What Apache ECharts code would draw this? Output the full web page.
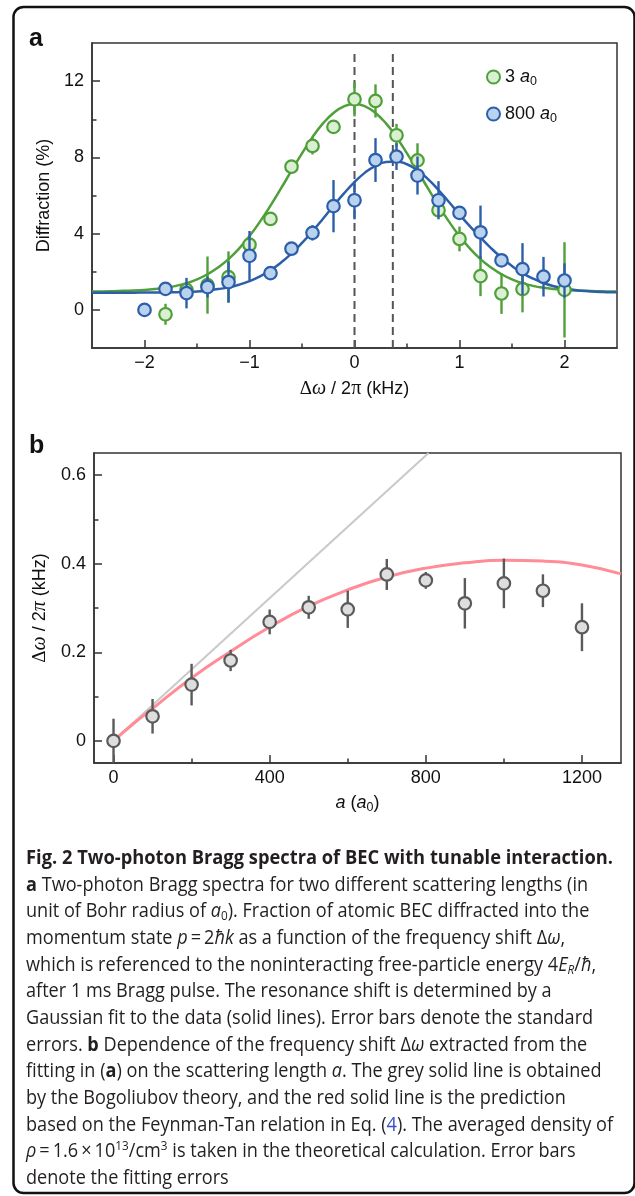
<!DOCTYPE html>
<html>
<head>
<meta charset="utf-8">
<script src="https://cdn.jsdelivr.net/npm/echarts@6/dist/echarts.min.js"></script>
<style>
  html, body { margin: 0; padding: 0; background: #fff; }
  #chart { position: absolute; left: 0; top: 0; width: 635px; height: 1196px; }
  #caption { position: absolute; left: 0; top: 0; width: 635px; height: 1196px; pointer-events: none; }
  .cl { position: absolute; left: 26px; white-space: nowrap; font-family: "Open Sans", "Noto Sans", sans-serif;
        font-size: 20px; line-height: 26px; color: #231f20; transform-origin: 0 50%; }
  .cl i { font-style: italic; }
  .cl b { font-weight: 700; }
  .cl sub { font-size: 13px; vertical-align: -3px; line-height: 0; }
  .cl sup { font-size: 13px; vertical-align: 7px; line-height: 0; }
  .lnk { color: #3450c8; }
</style>
</head>
<body>
<div id="chart"></div>
<div id="caption">
  <div class="cl"><b>Fig. 2 Two-photon Bragg spectra of BEC with tunable interaction.</b></div>
  <div class="cl"><b>a</b> Two-photon Bragg spectra for two different scattering lengths (in</div>
  <div class="cl">unit of Bohr radius of <i>a</i><sub>0</sub>). Fraction of atomic BEC diffracted into the</div>
  <div class="cl">momentum state <i>p</i>&thinsp;=&thinsp;2<i>ħk</i> as a function of the frequency shift Δ<i>ω</i>,</div>
  <div class="cl">which is referenced to the noninteracting free-particle energy 4<i>E</i><sub><i>R</i></sub>/<i>ħ</i>,</div>
  <div class="cl">after 1 ms Bragg pulse. The resonance shift is determined by a</div>
  <div class="cl">Gaussian fit to the data (solid lines). Error bars denote the standard</div>
  <div class="cl">errors. <b>b</b> Dependence of the frequency shift Δ<i>ω</i> extracted from the</div>
  <div class="cl">fitting in (<b>a</b>) on the scattering length <i>a</i>. The grey solid line is obtained</div>
  <div class="cl">by the Bogoliubov theory, and the red solid line is the prediction</div>
  <div class="cl">based on the Feynman-Tan relation in Eq. (<span class="lnk">4</span>). The averaged density of</div>
  <div class="cl"><i>ρ</i>&thinsp;=&thinsp;1.6&thinsp;×&thinsp;10<sup>13</sup>/cm<sup>3</sup> is taken in the theoretical calculation. Error bars</div>
  <div class="cl">denote the fitting errors</div>
</div>
<script>
// ---------------- Panel a data ----------------
const greenX   = [-1.8, -1.6, -1.4, -1.2, -1.0, -0.8, -0.6, -0.4, -0.2, 0.0, 0.2, 0.4, 0.6, 0.8, 1.0, 1.2, 1.4, 1.6, 2.0];
const greenY   = [-0.23, 1.05, 1.3, 1.72, 3.42, 4.77, 7.51, 8.6, 9.6, 11.05, 10.96, 9.16, 7.84, 5.23, 3.72, 1.77, 0.86, 1.09, 1.05];
const greenErr = [0.55, 0.3, 1.5, 1.35, 0.3, 0.3, 0.35, 0.45, 0.3, 0.9, 0.87, 0.6, 0.9, 0.35, 0.65, 1.05, 1.07, 1.22, 2.5];

const blueX   = [-2.0, -1.8, -1.6, -1.4, -1.2, -1.0, -0.8, -0.6, -0.4, -0.2, 0.0, 0.2, 0.4, 0.6, 0.8, 1.0, 1.2, 1.4, 1.6, 1.8, 2.0];
const blueY   = [0.0, 1.1, 0.88, 1.2, 1.46, 2.84, 1.93, 3.21, 4.04, 5.44, 5.75, 7.86, 8.04, 7.05, 5.75, 5.09, 4.07, 2.6, 2.14, 1.74, 1.54];
const blueErr = [0.35, 0.3, 0.8, 0.55, 1.07, 1.3, 0.3, 0.3, 0.4, 1.37, 1.0, 1.15, 0.7, 1.0, 1.0, 0.3, 1.4, 0.3, 1.36, 1.04, 0.9];

// Gaussian fit curves
const fitX = [-2.5, -2.4, -2.3, -2.2, -2.1, -2.0, -1.9, -1.8, -1.7, -1.6, -1.5, -1.4, -1.3, -1.2, -1.1, -1.0, -0.9, -0.8, -0.7, -0.6, -0.5, -0.4, -0.3, -0.2, -0.1,
              0.0, 0.1, 0.2, 0.3, 0.4, 0.5, 0.6, 0.7, 0.8, 0.9, 1.0, 1.1, 1.2, 1.3, 1.4, 1.5, 1.6, 1.7, 1.8, 1.9, 2.0, 2.1, 2.2, 2.3, 2.4, 2.5];
const greenFit = [0.97, 0.97, 0.98, 1.00, 1.01, 1.04, 1.09, 1.16, 1.26, 1.40, 1.60, 1.87, 2.22, 2.66, 3.21, 3.87, 4.63, 5.47, 6.37, 7.30, 8.21, 9.06, 9.78, 10.33, 10.68,
                  10.80, 10.68, 10.33, 9.78, 9.06, 8.21, 7.30, 6.37, 5.47, 4.63, 3.87, 3.21, 2.66, 2.22, 1.87, 1.60, 1.40, 1.26, 1.16, 1.09, 1.04, 1.01, 1.00, 0.98, 0.97, 0.97];
const blueFit = [0.90, 0.90, 0.90, 0.90, 0.90, 0.91, 0.91, 0.92, 0.93, 0.95, 0.97, 1.02, 1.09, 1.18, 1.32, 1.51, 1.76, 2.08, 2.48, 2.96, 3.51, 4.12, 4.78, 5.46, 6.11,
                 6.70, 7.20, 7.56, 7.76, 7.79, 7.64, 7.32, 6.86, 6.29, 5.66, 5.00, 4.38, 3.80, 3.24, 2.74, 2.30, 1.93, 1.64, 1.41, 1.24, 1.12, 1.04, 0.99, 0.95, 0.93, 0.92];

const dashedX = [0, 0.365];        // resonance positions (vertical dashed lines)
const dashedRange = [-2, 13.5];

const legendNums = ['3', '800'];
const legendNames = ['3 a0', '800 a0'];

const aXTicks = [-2, -1, 0, 1, 2];
const aXMinor = [-1.5, -0.5, 0.5, 1.5];
const aYTicks = [0, 4, 8, 12];
const aYMinor = [2, 6, 10];

// ---------------- Panel b data ----------------
const bX   = [0, 100, 200, 300, 400, 500, 600, 700, 800, 900, 1000, 1100, 1200];
const bY   = [0, 0.0555, 0.127, 0.1815, 0.2686, 0.3016, 0.297, 0.3758, 0.3623, 0.3106, 0.3556, 0.339, 0.2566];
const bErr = [0.05, 0.039, 0.047, 0.024, 0.028, 0.026, 0.042, 0.035, 0.019, 0.057, 0.056, 0.037, 0.054];

const greyLineX = [0, 807];
const greyLineY = [0, 0.65];

const redX = [0, 50, 100, 200, 300, 400, 500, 600, 700, 800, 900, 1000, 1100, 1200, 1300];
const redY = [0, 0.038, 0.073, 0.142, 0.202, 0.257, 0.304, 0.341, 0.370, 0.390, 0.402, 0.408, 0.406, 0.397, 0.377];

const bXTicks = [0, 400, 800, 1200];
const bXMinor = [200, 600, 1000];
const bYTicks = [0, 0.2, 0.4, 0.6];
const bYMinor = [0.1, 0.3, 0.5];

// ---------------- Styling ----------------
const FONT = '"Liberation Sans", Arial, Helvetica, sans-serif';
const SERIF = '"Liberation Serif", "DejaVu Serif", serif';
const INK = '#111';
const AX = '#333';
const GREEN = '#4f9f3a', GREEN_FILL = '#dbf0d3';
const BLUE = '#2c5ea9', BLUE_FILL = '#b9d3ef';
const GREYPT = '#5a5a5a', GREYPT_FILL = '#dedede';

const zip = (xs, ys) => xs.map((x, i) => [x, ys[i]]);
const fmt = v => (v < 0 ? '\u2212' + Math.abs(v) : String(v));

const nameRich = {
  t: { fontFamily: FONT, fontSize: 18, color: INK, lineHeight: 22 },
  d: { fontFamily: SERIF, fontSize: 19, color: INK, lineHeight: 22 },
  w: { fontFamily: SERIF, fontSize: 20, fontStyle: 'italic', color: INK, lineHeight: 22 },
  p: { fontFamily: SERIF, fontSize: 20, color: INK, lineHeight: 22 },
  pi: { fontFamily: SERIF, fontSize: 20, fontStyle: 'italic', color: INK, lineHeight: 22 },
  i: { fontFamily: FONT, fontSize: 18, fontStyle: 'italic', color: INK, lineHeight: 22 },
  s: { fontFamily: FONT, fontSize: 12.5, color: INK, lineHeight: 12, verticalAlign: 'bottom' }
};

function majorAxis(grid, ticks, min, max, isX, extra) {
  return Object.assign({
    gridIndex: grid, type: 'value', min: min, max: max,
    position: isX ? 'bottom' : 'left',
    axisLine: { show: true, onZero: false, lineStyle: { color: AX, width: 1.5 } },
    axisTick: { show: true, inside: true, length: 8, customValues: ticks, lineStyle: { color: AX, width: 1.5 } },
    axisLabel: { customValues: ticks, formatter: fmt, fontFamily: FONT, fontSize: 18, color: INK, margin: isX ? 6 : 8 },
    splitLine: { show: false }
  }, extra || {});
}
function minorAxis(grid, ticks, min, max, isX) {
  return {
    gridIndex: grid, type: 'value', min: min, max: max,
    position: isX ? 'bottom' : 'left',
    axisLine: { show: false, onZero: false },
    axisTick: { show: true, inside: true, length: 4.5, customValues: ticks, lineStyle: { color: AX, width: 1.5 } },
    axisLabel: { show: false },
    splitLine: { show: false }
  };
}

function errSeries(xs, ys, es, color, xi, yi, z) {
  return {
    type: 'custom', xAxisIndex: xi, yAxisIndex: yi, z: z, silent: true,
    data: xs.map((x, i) => [x, ys[i], es[i]]),
    encode: { x: 0, y: 1 },
    renderItem: function (params, api) {
      const x = api.value(0), y = api.value(1), e = api.value(2);
      const a = api.coord([x, y + e]);
      const b = api.coord([x, y - e]);
      return { type: 'line', shape: { x1: a[0], y1: a[1], x2: b[0], y2: b[1] },
               style: { stroke: color, lineWidth: 2.4 } };
    }
  };
}
function ptSeries(name, xs, ys, fill, stroke, xi, yi, z) {
  return {
    type: 'scatter', name: name, xAxisIndex: xi, yAxisIndex: yi, z: z,
    data: zip(xs, ys), symbol: 'circle', symbolSize: 12.5,
    itemStyle: { color: fill, borderColor: stroke, borderWidth: 2.2, opacity: 1 },
    emphasis: { disabled: true }
  };
}
function lineSeries(xs, ys, color, width, xi, yi, z, smooth, type) {
  return {
    type: 'line', xAxisIndex: xi, yAxisIndex: yi, z: z, silent: true,
    data: zip(xs, ys), smooth: smooth, showSymbol: false, symbol: 'none', clip: true,
    lineStyle: { color: color, width: width, type: type || 'solid' },
    emphasis: { disabled: true }
  };
}

const chart = echarts.init(document.getElementById('chart'), null, { renderer: 'canvas' });

const option = {
  animation: false,
  backgroundColor: '#fff',
  grid: [
    { left: 92, top: 43, width: 525, height: 305, show: true, borderColor: AX, borderWidth: 1.5, backgroundColor: 'transparent' },
    { left: 94, top: 453, width: 527, height: 310, show: true, borderColor: AX, borderWidth: 1.5, backgroundColor: 'transparent' }
  ],
  xAxis: [
    majorAxis(0, aXTicks, -2.5, 2.5, true, {
      name: '{d|\u0394}{w|\u03c9}{t| / 2}{p|\u03c0}{t| (kHz)}', nameLocation: 'middle', nameGap: 30,
      nameTextStyle: { rich: nameRich }
    }),
    minorAxis(0, aXMinor, -2.5, 2.5, true),
    majorAxis(1, bXTicks, -50, 1300, true, {
      name: '{i|a}{t| (}{i|a}{s|0}{t|)}', nameLocation: 'middle', nameGap: 29,
      nameTextStyle: { rich: nameRich }
    }),
    minorAxis(1, bXMinor, -50, 1300, true)
  ],
  yAxis: [
    majorAxis(0, aYTicks, -2, 14, false, {
      name: 'Diffraction (%)', nameLocation: 'middle', nameGap: 39,
      nameTextStyle: { fontFamily: FONT, fontSize: 18, color: INK }
    }),
    minorAxis(0, aYMinor, -2, 14, false),
    majorAxis(1, bYTicks, -0.05, 0.65, false, {
      name: '{d|\u0394}{w|\u03c9}{t| / 2}{pi|\u03c0}{t| (kHz)}', nameLocation: 'middle', nameGap: 43,
      nameTextStyle: { rich: nameRich }
    }),
    minorAxis(1, bYMinor, -0.05, 0.65, false)
  ],
  legend: {
    data: legendNames, orient: 'vertical', left: 486, top: 68, padding: 0,
    itemWidth: 13, itemHeight: 13, itemGap: 17, itemTextGap: 8, selectedMode: false,
    formatter: function (name) {
      const n = legendNums[legendNames.indexOf(name)];
      return '{n|' + n + ' }{i|a}{s|0}';
    },
    textStyle: {
      rich: {
        n: { fontFamily: FONT, fontSize: 18, color: INK, lineHeight: 22 },
        i: { fontFamily: FONT, fontSize: 18, fontStyle: 'italic', color: INK, lineHeight: 22 },
        s: { fontFamily: FONT, fontSize: 12.5, color: INK, lineHeight: 12, verticalAlign: 'bottom' }
      }
    }
  },
  graphic: [
    { type: 'rect', shape: { x: 13.5, y: 7, width: 621, height: 1186, r: 10 },
      style: { fill: 'none', stroke: '#111', lineWidth: 2.5 }, z: 100, silent: true },
    { type: 'text', x: 29, y: 39, style: { text: 'a', font: 'bold 25px ' + FONT, fill: INK, verticalAlign: 'middle' } },
    { type: 'text', x: 29, y: 446, style: { text: 'b', font: 'bold 25px ' + FONT, fill: INK, verticalAlign: 'middle' } }
  ],
  series: [
    // panel a
    lineSeries(fitX, greenFit, GREEN, 2.5, 0, 0, 2, true),
    lineSeries(fitX, blueFit, BLUE, 2.5, 0, 0, 2, true),
    lineSeries([dashedX[0], dashedX[0]], dashedRange, '#555', 2, 0, 0, 1, false, [8, 5]),
    lineSeries([dashedX[1], dashedX[1]], dashedRange, '#555', 2, 0, 0, 1, false, [8, 5]),
    errSeries(greenX, greenY, greenErr, GREEN, 0, 0, 3),
    ptSeries(legendNames[0], greenX, greenY, GREEN_FILL, GREEN, 0, 0, 4),
    errSeries(blueX, blueY, blueErr, BLUE, 0, 0, 5),
    ptSeries(legendNames[1], blueX, blueY, BLUE_FILL, BLUE, 0, 0, 6),
    // panel b
    lineSeries(greyLineX, greyLineY, '#c9c9c9', 2, 2, 2, 2, false),
    lineSeries(redX, redY, '#ff8c96', 3, 2, 2, 3, true),
    errSeries(bX, bY, bErr, GREYPT, 2, 2, 4),
    ptSeries('b', bX, bY, GREYPT_FILL, GREYPT, 2, 2, 5)
  ]
};
chart.setOption(option);

// ---------------- Caption layout ----------------
function layoutCaption() {
  const lines = Array.from(document.querySelectorAll('.cl'));
  const top0 = 857, step = 26.65, target = 613 - 26;
  lines.forEach((l, i) => { l.style.top = (top0 + step * i - 13) + 'px'; l.style.transform = 'none'; });
  const widths = lines.map(l => l.getBoundingClientRect().width);
  const kTitle = target / widths[0];
  const kBody = target / Math.max.apply(null, widths.slice(1));
  lines.forEach((l, i) => { l.style.transform = 'scaleX(' + (i === 0 ? kTitle : kBody) + ')'; });
}
layoutCaption();
if (document.fonts && document.fonts.ready) document.fonts.ready.then(layoutCaption);
</script>
</body>
</html>
